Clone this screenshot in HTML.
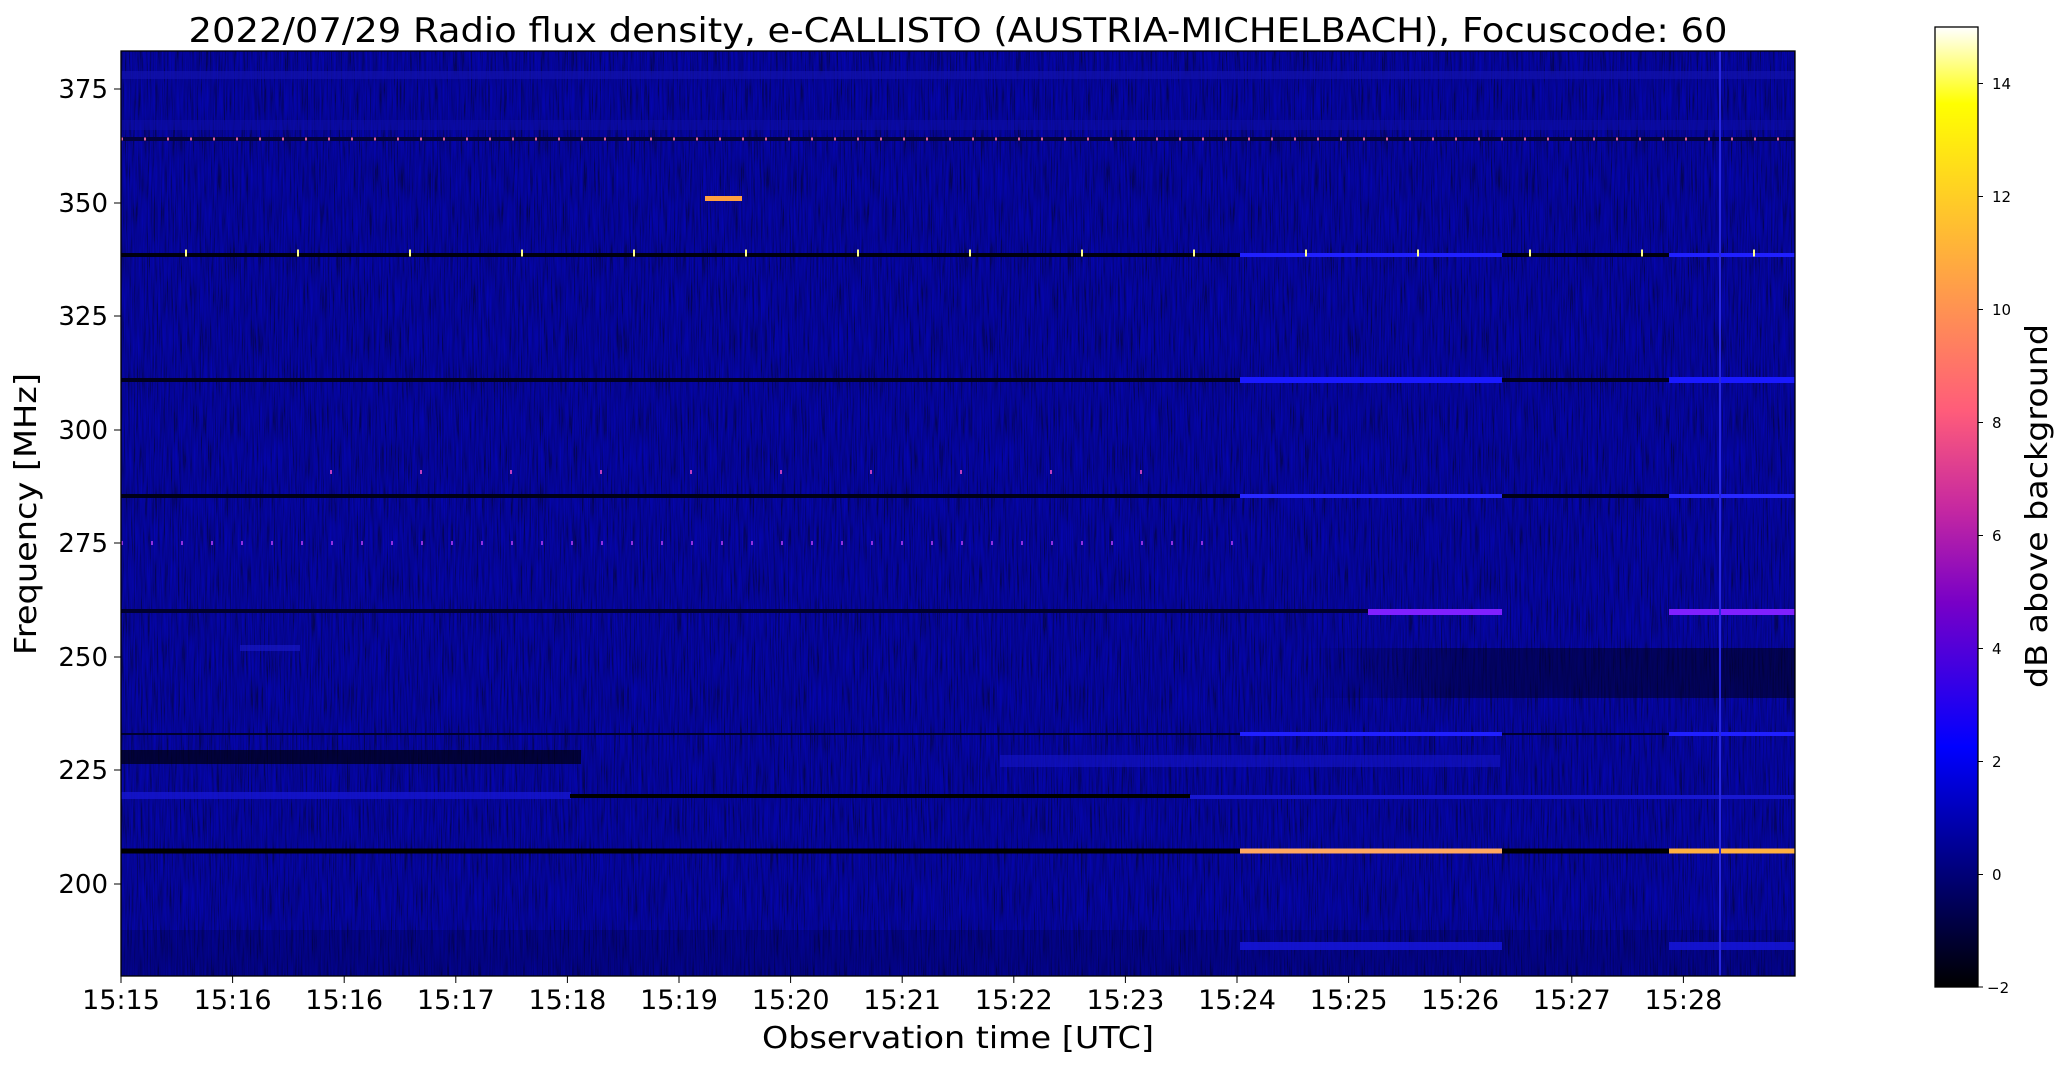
<!DOCTYPE html>
<html><head><meta charset="utf-8"><style>
html,body{margin:0;padding:0;background:#fff;}
svg{display:block;font-family:"DejaVu Sans","Liberation Sans",sans-serif;}
</style></head><body>
<svg width="2066" height="1067" viewBox="0 0 2066 1067" xmlns="http://www.w3.org/2000/svg">
<defs>
<filter id="nz" x="0" y="0" width="100%" height="100%">
<feTurbulence type="fractalNoise" baseFrequency="0.7 0.025" numOctaves="2" seed="3"/>
<feColorMatrix type="matrix" values="0 0 0 0 0  0 0 0 0 0  1.6 0 0 0 -0.45  0 0 0 0 0.35"/>
</filter>
<linearGradient id="cb" x1="0" y1="1" x2="0" y2="0">
<stop offset="0" stop-color="#000000"/>
<stop offset="0.118" stop-color="#000078"/>
<stop offset="0.25" stop-color="#0000ff"/>
<stop offset="0.4" stop-color="#7800c7"/>
<stop offset="0.5" stop-color="#c729a0"/>
<stop offset="0.6" stop-color="#ff5c7a"/>
<stop offset="0.7" stop-color="#ff8f54"/>
<stop offset="0.8" stop-color="#ffc22e"/>
<stop offset="0.92" stop-color="#ffff00"/>
<stop offset="1" stop-color="#ffffff"/>
</linearGradient>
<linearGradient id="dk" x1="0" y1="0" x2="1" y2="0">
<stop offset="0" stop-color="#000040" stop-opacity="0"/>
<stop offset="0.3" stop-color="#000030" stop-opacity="0.5"/>
<stop offset="1" stop-color="#000020" stop-opacity="0.6"/>
</linearGradient>
<clipPath id="pc"><rect x="121" y="51" width="1674" height="925"/></clipPath>
</defs>

<text x="958" y="42" font-size="34" text-anchor="middle" textLength="1539" lengthAdjust="spacingAndGlyphs">2022/07/29  Radio flux density, e-CALLISTO (AUSTRIA-MICHELBACH), Focuscode: 60</text>

<g clip-path="url(#pc)">
<rect x="121" y="51" width="1674" height="925" fill="#08088e"/>
<rect x="121" y="51" width="1674" height="925" filter="url(#nz)"/>
<rect x="121" y="71" width="1674" height="8" fill="#1414b0" opacity="0.6"/>
<rect x="121" y="120" width="1674" height="10" fill="#1010a8" opacity="0.5"/>
<line x1="121" y1="139" x2="1795" y2="139" stroke="#020240" stroke-width="4"/>
<line x1="121" y1="139" x2="1795" y2="139" stroke="#e060a0" stroke-width="3" stroke-dasharray="2 21"/>
<rect x="705" y="196" width="37" height="5" fill="#ffa040"/>
<line x1="121" y1="255" x2="1240" y2="255" stroke="#000010" stroke-width="4"/>
<line x1="1502" y1="255" x2="1669" y2="255" stroke="#000010" stroke-width="4"/>
<line x1="1240" y1="255" x2="1502" y2="255" stroke="#2020ff" stroke-width="4"/>
<line x1="1669" y1="255" x2="1795" y2="255" stroke="#2020ff" stroke-width="4"/>
<line x1="185" y1="253" x2="1795" y2="253" stroke="#ffff90" stroke-width="7" stroke-dasharray="2 110"/>
<line x1="121" y1="380" x2="1240" y2="380" stroke="#000020" stroke-width="4"/>
<line x1="1502" y1="380" x2="1669" y2="380" stroke="#000020" stroke-width="4"/>
<line x1="1240" y1="380" x2="1502" y2="380" stroke="#1a1aff" stroke-width="6"/>
<line x1="1669" y1="380" x2="1795" y2="380" stroke="#1a1aff" stroke-width="6"/>
<line x1="121" y1="496" x2="1240" y2="496" stroke="#000018" stroke-width="4"/>
<line x1="1502" y1="496" x2="1669" y2="496" stroke="#000018" stroke-width="4"/>
<line x1="1240" y1="496" x2="1502" y2="496" stroke="#2828ff" stroke-width="4"/>
<line x1="1669" y1="496" x2="1795" y2="496" stroke="#2828ff" stroke-width="4"/>
<line x1="330" y1="472" x2="1230" y2="472" stroke="#c040c0" stroke-width="4" stroke-dasharray="2 88"/>
<line x1="121" y1="543" x2="1240" y2="543" stroke="#9030e0" stroke-width="4" stroke-dasharray="2 28"/>
<line x1="121" y1="611" x2="1368" y2="611" stroke="#000030" stroke-width="4"/>
<line x1="1368" y1="612" x2="1502" y2="612" stroke="#8020ff" stroke-width="6"/>
<line x1="1669" y1="612" x2="1795" y2="612" stroke="#8020ff" stroke-width="6"/>
<rect x="1300" y="648" width="495" height="50" fill="url(#dk)"/>
<rect x="240" y="645" width="60" height="6" fill="#1a1acc" opacity="0.6"/>
<line x1="121" y1="734" x2="1795" y2="734" stroke="#000030" stroke-width="2"/>
<line x1="1240" y1="734" x2="1502" y2="734" stroke="#2020ff" stroke-width="4"/>
<line x1="1669" y1="734" x2="1795" y2="734" stroke="#2020ff" stroke-width="4"/>
<rect x="1000" y="755" width="500" height="12" fill="#1818d0" opacity="0.5"/>
<rect x="121" y="750" width="460" height="14" fill="#000010" opacity="0.7"/>
<rect x="121" y="792" width="450" height="7" fill="#1818d8" opacity="0.7"/>
<line x1="570" y1="796" x2="1190" y2="796" stroke="#000000" stroke-width="4"/>
<line x1="1190" y1="797" x2="1795" y2="797" stroke="#1818d0" stroke-width="4"/>
<line x1="121" y1="851" x2="1240" y2="851" stroke="#000000" stroke-width="5"/>
<line x1="1502" y1="851" x2="1669" y2="851" stroke="#000000" stroke-width="5"/>
<line x1="1240" y1="851" x2="1502" y2="851" stroke="#ffa860" stroke-width="5"/>
<line x1="1669" y1="851" x2="1795" y2="851" stroke="#ffb040" stroke-width="5"/>
<rect x="121" y="930" width="1674" height="46" fill="#000040" opacity="0.25"/>
<rect x="1240" y="942" width="262" height="8" fill="#1818e0" opacity="0.8"/>
<rect x="1669" y="942" width="126" height="8" fill="#1818e0" opacity="0.8"/>
<line x1="1720" y1="51" x2="1720" y2="976" stroke="#2828e0" stroke-width="2"/>
</g>
<rect x="121" y="51" width="1674" height="925" fill="none" stroke="#000" stroke-width="1.3"/>

<g font-size="26" text-anchor="end">
<line x1="114" y1="89" x2="121" y2="89" stroke="#000"/><text x="108" y="98">375</text>
<line x1="114" y1="203" x2="121" y2="203" stroke="#000"/><text x="108" y="212">350</text>
<line x1="114" y1="316" x2="121" y2="316" stroke="#000"/><text x="108" y="325">325</text>
<line x1="114" y1="430" x2="121" y2="430" stroke="#000"/><text x="108" y="439">300</text>
<line x1="114" y1="543" x2="121" y2="543" stroke="#000"/><text x="108" y="552">275</text>
<line x1="114" y1="657" x2="121" y2="657" stroke="#000"/><text x="108" y="666">250</text>
<line x1="114" y1="770" x2="121" y2="770" stroke="#000"/><text x="108" y="779">225</text>
<line x1="114" y1="884" x2="121" y2="884" stroke="#000"/><text x="108" y="893">200</text>
</g>
<g font-size="27" text-anchor="middle" stroke-width="1">
<g stroke="#000">
<line x1="121" y1="976" x2="121" y2="983"/><line x1="232.6" y1="976" x2="232.6" y2="983"/><line x1="344.2" y1="976" x2="344.2" y2="983"/><line x1="455.8" y1="976" x2="455.8" y2="983"/><line x1="567.4" y1="976" x2="567.4" y2="983"/><line x1="679" y1="976" x2="679" y2="983"/><line x1="790.6" y1="976" x2="790.6" y2="983"/><line x1="902.2" y1="976" x2="902.2" y2="983"/><line x1="1013.8" y1="976" x2="1013.8" y2="983"/><line x1="1125.4" y1="976" x2="1125.4" y2="983"/><line x1="1237" y1="976" x2="1237" y2="983"/><line x1="1348.6" y1="976" x2="1348.6" y2="983"/><line x1="1460.2" y1="976" x2="1460.2" y2="983"/><line x1="1571.8" y1="976" x2="1571.8" y2="983"/><line x1="1683.4" y1="976" x2="1683.4" y2="983"/>
</g>
<text x="121" y="1009">15:15</text><text x="232.6" y="1009">15:16</text><text x="344.2" y="1009">15:16</text><text x="455.8" y="1009">15:17</text><text x="567.4" y="1009">15:18</text><text x="679" y="1009">15:19</text><text x="790.6" y="1009">15:20</text><text x="902.2" y="1009">15:21</text><text x="1013.8" y="1009">15:22</text><text x="1125.4" y="1009">15:23</text><text x="1237" y="1009">15:24</text><text x="1348.6" y="1009">15:25</text><text x="1460.2" y="1009">15:26</text><text x="1571.8" y="1009">15:27</text><text x="1683.4" y="1009">15:28</text>
</g>
<text x="958" y="1048" font-size="30" text-anchor="middle" textLength="392" lengthAdjust="spacingAndGlyphs">Observation time [UTC]</text>
<text transform="translate(36,514) rotate(-90)" font-size="30" text-anchor="middle" textLength="282" lengthAdjust="spacingAndGlyphs">Frequency [MHz]</text>

<rect x="1935" y="27" width="43" height="960" fill="url(#cb)" stroke="#000" stroke-width="1.3"/>
<g stroke="#000">
<line x1="1978" y1="83.5" x2="1983" y2="83.5"/><line x1="1978" y1="196.5" x2="1983" y2="196.5"/><line x1="1978" y1="309.5" x2="1983" y2="309.5"/><line x1="1978" y1="422.5" x2="1983" y2="422.5"/><line x1="1978" y1="535.5" x2="1983" y2="535.5"/><line x1="1978" y1="648.5" x2="1983" y2="648.5"/><line x1="1978" y1="761.5" x2="1983" y2="761.5"/><line x1="1978" y1="874.5" x2="1983" y2="874.5"/><line x1="1978" y1="987" x2="1983" y2="987"/>
</g>
<g font-size="15">
<text x="1992" y="89">14</text><text x="1992" y="202">12</text><text x="1992" y="315">10</text><text x="1992" y="428">8</text><text x="1992" y="541">6</text><text x="1992" y="654">4</text><text x="1992" y="767">2</text><text x="1992" y="880">0</text><text x="1987" y="993">−2</text>
</g>
<text transform="translate(2047,506) rotate(-90)" font-size="30" text-anchor="middle" textLength="364" lengthAdjust="spacingAndGlyphs">dB above background</text>
</svg>
</body></html>
